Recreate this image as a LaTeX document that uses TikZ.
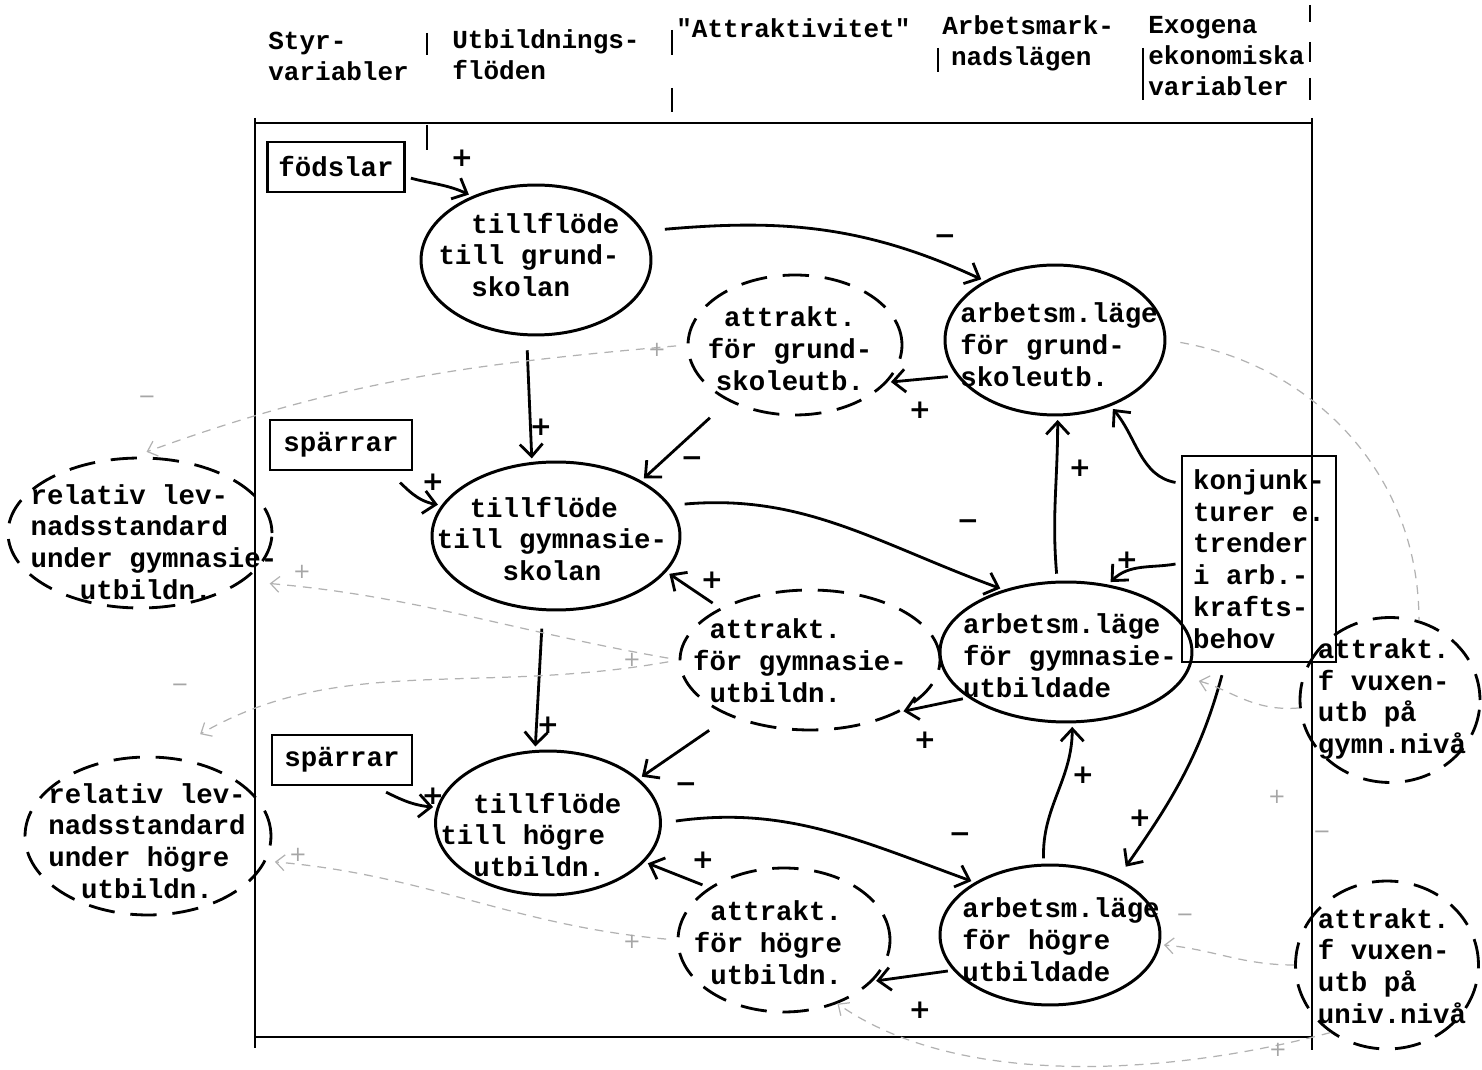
\documentclass[tikz,border=0pt]{standalone}
\usepackage{fontspec}
\newfontfamily\tw{Liberation Mono}
\newfontfamily\sg{DejaVu Sans}
\usetikzlibrary{shapes.geometric,arrows.meta}
\begin{document}
\begin{tikzpicture}[x=0.02cm,y=0.02cm,
  nf/.style={font=\tw\bfseries\fontsize{15.6}{18.1}\selectfont, inner sep=0pt, align=left},
  hf/.style={font=\tw\bfseries\fontsize{14.8}{17.6}\selectfont, inner sep=0pt, align=left, anchor=west},
  sol/.style={ellipse, draw, line width=1.7pt, inner sep=0pt},
  dsh/.style={ellipse, draw, line width=1.6pt, dash pattern=on 15pt off 9pt, inner sep=0pt},
  bx/.style={rectangle, draw, line width=1.5pt, inner sep=0pt},
  arr/.style={line width=1.6pt, -{Straight Barb[length=7pt,width=13pt,line width=1.6pt]}, shorten >=2pt, shorten <=3pt},
  fnt/.style={gray!60, line width=0.7pt, dash pattern=on 5pt off 4pt, -{Straight Barb[length=5pt,width=9pt]}},
  ps/.style={font=\sg\bfseries\fontsize{15}{15}\selectfont, inner sep=0pt},
  fs/.style={font=\sg\fontsize{12}{12}\selectfont, inner sep=0pt, text=gray!70},
  rl/.style={line width=1.1pt},
  tk/.style={line width=0.8pt},
]
\useasboundingbox (0,0) rectangle (1482,-1070);

% frame
\draw[rl] (255,-118) -- (255,-1048);
\draw[rl] (255,-123) -- (1312,-123);
\draw[rl] (255,-1037) -- (1312,-1037);
\draw[rl] (1312,-118) -- (1312,-1050);
% header separators
\draw[tk] (427,-33) -- (427,-55);
\draw[tk] (427,-125) -- (427,-150);
\draw[tk] (672,-30) -- (672,-55);
\draw[tk] (672,-88) -- (672,-112);
\draw[tk] (938,-48) -- (938,-72);
\draw[tk] (1143,-48) -- (1143,-100);
\draw[tk] (1310,-5) -- (1310,-22);
\draw[tk] (1310,-42) -- (1310,-62);
\draw[tk] (1310,-78) -- (1310,-100);

% header
\node[hf] (h1) at (268,-56) {Styr-\\variabler};
\node[hf] (h2) at (452,-55) {Utbildnings-\\flöden};
\node[hf] (h3) at (676,-28) {"Attraktivitet"};
\node[hf] (h4) at (942,-43) {Arbetsmark-\\\hspace*{5pt}nadslägen};
\node[hf] (h5) at (1148,-56) {Exogena\\ekonomiska\\variabler};

% solid ellipses
\node[sol, minimum width=4.6cm, minimum height=3cm] (tg) at (536,-260) {};
\node[nf] (tgT) at (529,-255) {\phantom{xx}tillflöde\\till grund-\\\phantom{xx}skolan};
\node[sol, minimum width=4.96cm, minimum height=2.96cm] (tgy) at (556,-536) {};
\node[nf] (tgyT) at (552,-539) {\phantom{xx}tillflöde\\till gymnasie-\\\phantom{xxxx}skolan};
\node[sol, minimum width=4.5cm, minimum height=2.88cm] (th) at (548,-823) {};
\node[nf] (thT) at (531,-835) {\phantom{xx}tillflöde\\till högre\\\phantom{xx}utbildn.};
\node[sol, minimum width=4.4cm, minimum height=3cm] (ag) at (1055,-340) {};
\node[nf] (agT) at (1059,-345) {arbetsm.läge\\för grund-\\skoleutb.};
\node[sol, minimum width=5.04cm, minimum height=2.8cm] (agy) at (1066,-652) {};
\node[nf] (agyT) at (1070,-656) {arbetsm.läge\\för gymnasie-\\utbildade};
\node[sol, minimum width=4.4cm, minimum height=2.8cm] (ah) at (1050,-935) {};
\node[nf] (ahT) at (1061,-940) {arbetsm.läge\\för högre\\utbildade};

% dashed ellipses
\node[dsh, minimum width=4.28cm, minimum height=2.8cm] (atg) at (795,-345) {};
\node[nf, align=center] (atgT) at (790,-349) {attrakt.\\för grund-\\skoleutb.};
\node[dsh, minimum width=5.2cm, minimum height=2.8cm] (atgy) at (810,-660) {};
\node[nf] (atgyT) at (800,-661) {\phantom{x}attrakt.\\för gymnasie-\\\phantom{x}utbildn.};
\node[dsh, minimum width=4.24cm, minimum height=2.88cm] (ath) at (784,-940) {};
\node[nf] (athT) at (768,-943) {\phantom{x}attrakt.\\för högre\\\phantom{x}utbildn.};
\node[dsh, minimum width=5.28cm, minimum height=3cm] (rg) at (140,-533) {};
\node[nf] (rgT) at (154,-542) {relativ lev-\\nadsstandard\\under gymnasie-\\\phantom{xxx}utbildn.};
\node[dsh, minimum width=4.92cm, minimum height=3.16cm] (rh) at (148,-836) {};
\node[nf] (rhT) at (147,-841) {relativ lev-\\nadsstandard\\under högre\\\phantom{xx}utbildn.};
\node[dsh, minimum width=3.6cm, minimum height=3.3cm] (vg) at (1390,-700) {};
\node[nf] (vgT) at (1392,-699) {attrakt.\\f vuxen-\\utb på\\gymn.nivå};
\node[dsh, minimum width=3.66cm, minimum height=3.36cm] (vu) at (1387,-965) {};
\node[nf] (vuT) at (1392,-966) {attrakt.\\f vuxen-\\utb på\\univ.nivå};

% boxes
\node[bx, nf, minimum width=2.74cm, minimum height=1cm] (fod) at (336,-167) {födslar};
\node[bx, nf, minimum width=2.84cm, minimum height=1cm] (sp1) at (341,-445) {spärrar};
\node[bx, nf, minimum width=2.8cm, minimum height=1cm] (sp2) at (342,-760) {spärrar};
\node[bx, nf, minimum width=3.08cm, minimum height=4.12cm] (konj) at (1259,-559) {konjunk-\\turer e.\\trender\\i arb.-\\krafts-\\behov};

% solid connectors
\draw[arr] (fod.-8) to[out=-15,in=155] (tg.135);
\node[ps] (p1) at (462,-158) {+};
\draw[arr, shorten <=12pt] (tg.15) to[out=5,in=155] (ag.140);
\node[ps] (m1) at (945,-240) {−};
\draw[arr, shorten <=8pt] (tg.-97) -- (tgy.108);
\node[ps] (p2) at (541,-427) {+};
\draw[arr, shorten <=5pt] (ag.200) -- (atg.-22);
\node[ps] (p3) at (920,-410) {+};
\draw[arr, shorten <=14pt] (atg.220) -- (tgy.33);
\node[ps] (m2) at (692,-462) {−};
\draw[arr, shorten <=10pt] (sp1.-30) to[out=-40,in=170] (tgy.165);
\node[ps] (p4) at (433,-482) {+};
\draw[arr, shorten <=8pt] (tgy.15) to[out=5,in=160] (agy.135);
\node[ps] (m3) at (968,-525) {−};
\draw[arr, shorten <=4pt] (agy.97) to[out=95,in=-90] (ag.-88);
\node[ps] (p5) at (1080,-468) {+};
\draw[arr] (konj.136) to[out=170,in=-50] (ag.-50);
\draw[arr] (konj.183) to[out=190,in=45] (agy.58);
\node[ps] (p6) at (1127,-560) {+};
\draw[arr, shorten <=7pt, shorten >=8pt] (konj.-108) to[out=-105,in=55] (ah.40);
\node[ps] (p7) at (1140,-818) {+};
\draw[arr, shorten <=5pt] (atgy.150) -- (tgy.-18);
\node[ps] (p8) at (712,-580) {+};
\draw[arr] (agy.205) -- (atgy.-30);
\node[ps] (p9) at (925,-740) {+};
\draw[arr, shorten <=10pt] (tgy.-100) -- (th.100);
\node[ps] (p10) at (548,-725) {+};
\draw[arr, shorten <=14pt] (atgy.215) -- (th.26);
\node[ps] (m4) at (686,-788) {−};
\draw[arr, shorten <=8pt] (sp2.-40) to[out=-25,in=175] (th.172);
\node[ps] (p11) at (433,-796) {+};
\draw[arr, shorten <=8pt] (th.east) to[out=8,in=160] (ah.145);
\node[ps] (m5) at (960,-838) {−};
\draw[arr] (ah.95) to[out=92,in=-90] (agy.-85);
\node[ps] (p12) at (1083,-775) {+};
\draw[arr, shorten <=4pt] (ath.145) -- (th.-22);
\node[ps] (p13) at (703,-860) {+};
\draw[arr] (ah.200) -- (ath.-25);
\node[ps] (p14) at (920,-1010) {+};

% faint dashed connectors
\draw[fnt, shorten <=6pt, shorten >=8pt] (atg.west) to[out=185,in=20] (rg.95);
\node[fs] (f1) at (147,-400) {−};
\node[fs] (f2) at (657,-350) {+};
\draw[fnt, shorten <=6pt, shorten >=15pt] (atgy.west) to[out=170,in=-5] (rg.-25);
\node[fs] (f3) at (302,-572) {+};
\node[fs] (f4) at (632,-660) {+};
\draw[fnt, shorten <=6pt, shorten >=25pt] (atgy.west) to[out=190,in=30] (rh.80);
\node[fs] (f5) at (180,-688) {−};
\draw[fnt, shorten <=6pt, shorten >=5pt] (ath.west) to[out=175,in=-5] (rh.-12);
\node[fs] (f6) at (298,-855) {+};
\node[fs] (f7) at (632,-942) {+};
\draw[fnt, -, shorten <=8pt] (ag.east) to[out=-10,in=90] (vg.70);
\draw[fnt, shorten >=8pt] (vg.185) to[out=185,in=-15] (agy.-12);
\node[fs] (f8) at (1277,-797) {+};
\draw[fnt, shorten >=2pt] (vu.180) to[out=180,in=-5] (ah.-5);
\node[fs] (f9) at (1185,-918) {−};
\node[fs] (f10) at (1322,-835) {−};
\draw[fnt] (vu.-130) to[out=195,in=-35,looseness=0.8] (ath.-50);
\node[fs] (f11) at (1278,-1050) {+};
\end{tikzpicture}
\end{document}
